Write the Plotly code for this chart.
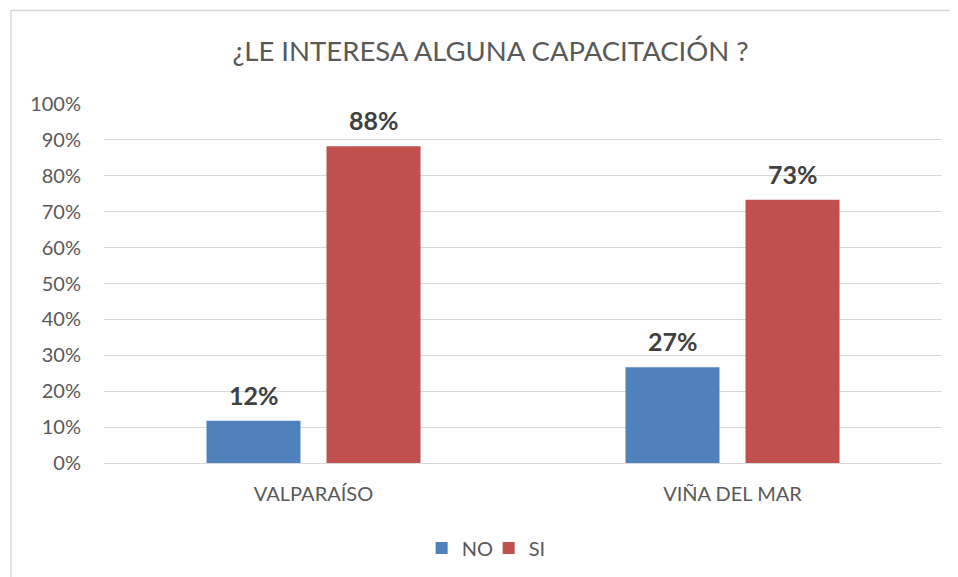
import plotly.graph_objects as go

categories = ["VALPARAÍSO", "VIÑA DEL MAR"]
no_values = [0.118, 0.267]
si_values = [0.882, 0.733]
series_names = ["NO", "SI"]
title_text = "¿LE INTERESA ALGUNA CAPACITACIÓN ?"

FONT = "Lato, Open Sans, sans-serif"
fig = go.Figure()
annotations = []
for name, vals, col, shift in [(series_names[0], no_values, "#4F81BD", -60),
                               (series_names[1], si_values, "#C0504D", 60)]:
    fig.add_trace(go.Bar(
        x=categories, y=vals, name=name, marker=dict(color=col, line=dict(width=0)),
    ))
    for c, v in zip(categories, vals):
        annotations.append(dict(
            x=c, y=v, xref="x", yref="y", text=f"{v:.0%}", showarrow=False,
            xanchor="center", yanchor="middle", xshift=shift, yshift=26,
            font=dict(family=FONT, size=25, color="#404040", weight="bold"),
        ))

W, H = 950, 569
fig.update_layout(
    width=W, height=H,
    margin=dict(l=96, r=16, t=96, b=114, autoexpand=False),
    paper_bgcolor="white", plot_bgcolor="white",
    barmode="group", bargap=0.427, bargroupgap=0.217,
    title=dict(text=title_text, xref="container", x=0.508, xanchor="center",
               yref="container", y=0.923, yanchor="middle",
               font=dict(family=FONT, size=27.5, color="#595959")),
    font=dict(family=FONT, color="#595959", size=20),
    legend=dict(orientation="h", x=0.459, xanchor="center", y=-0.237, yanchor="middle",
                font=dict(size=20, color="#595959"), itemwidth=30, traceorder="normal",
                entrywidth=22, entrywidthmode="pixels"),
    xaxis=dict(showgrid=False, showline=False, ticks="", tickfont=dict(size=20, color="#595959"),
               ticklabelstandoff=17, automargin=False),
    yaxis=dict(range=[0, 1.0], dtick=0.1, tickformat=".0%", showgrid=True, gridcolor="#D9D9D9",
               gridwidth=1, zeroline=True, zerolinecolor="#D9D9D9", zerolinewidth=1,
               tickfont=dict(size=20, color="#595959"), ticklabelstandoff=22, automargin=False),
    annotations=annotations,
    shapes=[dict(type="rect", xref="paper", yref="paper",
                 x0=(11 - 104) / 838, x1=1.2, y0=-0.5, y1=(463 - 10.5) / 359,
                 line=dict(color="#D9D9D9", width=1.5), fillcolor="rgba(0,0,0,0)", layer="below")],
)
fig.write_html("out.html")
